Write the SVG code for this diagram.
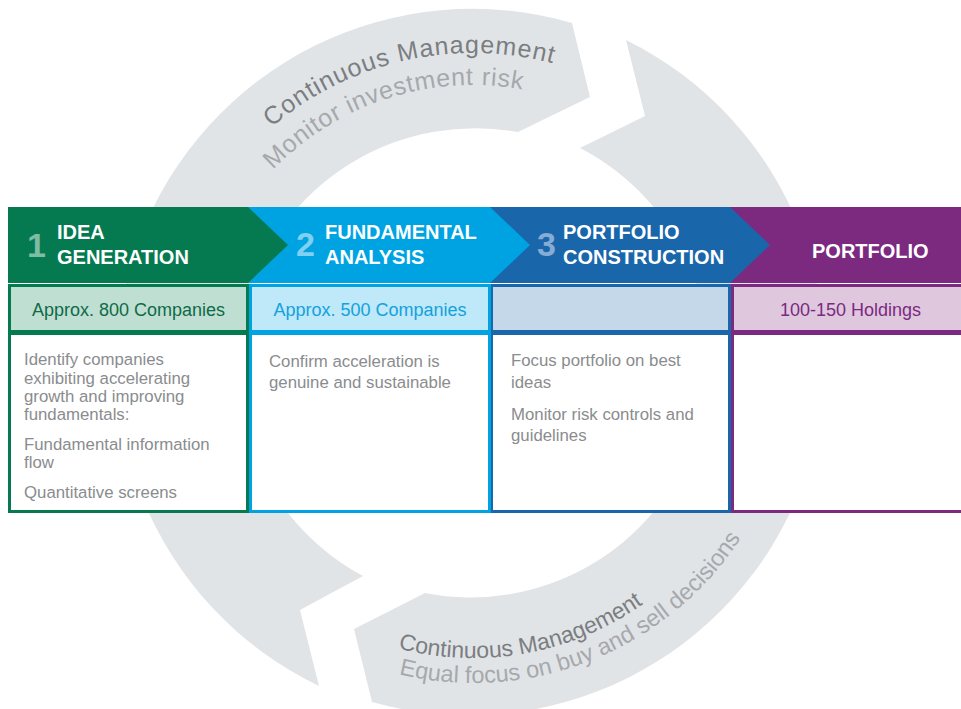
<svg xmlns="http://www.w3.org/2000/svg" width="961" height="709" viewBox="0 0 961 709">
<style>
.ring{fill:#E1E4E7}
.t1{font-family:"Liberation Sans",Arial,sans-serif;fill:#7B7E81}
.t2{font-family:"Liberation Sans",Arial,sans-serif;fill:#A6A9AC}
.hd{font-family:"Liberation Sans",Arial,sans-serif;font-weight:bold;font-size:20px;fill:#FFFFFF}
.num{font-family:"Liberation Sans",Arial,sans-serif;font-weight:bold;font-size:34px}
.sub{font-family:"Liberation Sans",Arial,sans-serif;font-size:18px;text-anchor:middle}
.body{font-family:"Liberation Sans",Arial,sans-serif;font-size:16.8px;fill:#8A8C8E}
.box{fill:#FFFFFF;stroke-width:3}
</style>
<defs>
<path id="pTop1" d="M271.7,127.3 A310,310 0 0 1 604,82"/>
<path id="pTop2" d="M273,169.9 A278,278 0 0 1 568.1,101.8"/>
<path id="pBot1" d="M398.1,648.4 A295,295 0 0 0 699,552.6"/>
<path id="pBot2" d="M398.9,674.3 A320,320 0 0 0 773.7,472.4"/>
</defs>
<rect width="961" height="709" fill="#FFFFFF"/>
<g id="connectors">
<path class="ring" d="M319,686 A356,356 0 0 1 572,23 L590,97 L518,132 A238,238 0 0 0 363,576 L300,610 Z"/>
<path class="ring" d="M626,40 A356,356 0 0 1 372,702 L354,629 L425,593 A238,238 0 0 0 580,148 L645,116 Z"/>
<text class="t1" font-size="25" letter-spacing="1"><textPath href="#pTop1">Continuous Management</textPath></text>
<text class="t2" font-size="25" letter-spacing="0.7"><textPath href="#pTop2">Monitor investment risk</textPath></text>
<text class="t1" font-size="23"><textPath href="#pBot1">Continuous Management</textPath></text>
<text class="t2" font-size="23.5"><textPath href="#pBot2">Equal focus on buy and sell decisions</textPath></text>
</g>
<g id="portfolio">
<rect x="730" y="207" width="231" height="76" fill="#7B2A80"/>
<rect x="732.5" y="285.5" width="240" height="46" fill="#DFC7DE" stroke="#7B2A80" stroke-width="3"/>
<rect class="box" x="732.5" y="333.5" width="240" height="178" stroke="#7B2A80"/>
<text class="hd" x="812" y="258">PORTFOLIO</text>
<text class="sub" x="850.5" y="316" fill="#7B2A80">100-150 Holdings</text>
</g>
<g id="portfolio-construction">
<polygon points="490,207 730,207 770,245 730,283 490,283" fill="#1A66AB"/>
<rect x="491.5" y="285.5" width="238" height="46" fill="#C5D8E9" stroke="#1A66AB" stroke-width="3"/>
<rect class="box" x="491.5" y="333.5" width="238" height="178" stroke="#1A66AB"/>
<text class="num" x="537" y="256" fill="#86ACD6">3</text>
<text class="hd" x="563" y="239">PORTFOLIO</text>
<text class="hd" x="563" y="264">CONSTRUCTION</text>
<text class="body" x="511" y="366">Focus portfolio on best</text>
<text class="body" x="511" y="388">ideas</text>
<text class="body" x="511" y="420">Monitor risk controls and</text>
<text class="body" x="511" y="441">guidelines</text>
</g>
<g id="fundamental-analysis">
<polygon points="248,207 490,207 530,245 490,283 248,283" fill="#00A3E2"/>
<rect x="250.5" y="285.5" width="239" height="46" fill="#BFE8F8" stroke="#00A3E2" stroke-width="3"/>
<rect class="box" x="250.5" y="333.5" width="239" height="178" stroke="#00A3E2"/>
<text class="num" x="296" y="256" fill="#80D1F1">2</text>
<text class="hd" x="325" y="239">FUNDAMENTAL</text>
<text class="hd" x="325" y="264">ANALYSIS</text>
<text class="sub" x="370" y="316" fill="#12A2DD">Approx. 500 Companies</text>
<text class="body" x="269" y="367">Confirm acceleration is</text>
<text class="body" x="269" y="388">genuine and sustainable</text>
</g>
<g id="idea-generation">
<polygon points="8,207 248,207 288,245 248,283 8,283" fill="#057A50"/>
<rect x="9.5" y="285.5" width="238" height="46" fill="#C0DFD3" stroke="#057A50" stroke-width="3"/>
<rect class="box" x="9.5" y="333.5" width="238" height="178" stroke="#057A50"/>
<text class="num" x="27" y="257" fill="#7FBCA4">1</text>
<text class="hd" x="57" y="239">IDEA</text>
<text class="hd" x="57" y="264">GENERATION</text>
<text class="sub" x="128.5" y="316" fill="#0F6A47">Approx. 800 Companies</text>
<text class="body" x="24" y="365">Identify companies</text>
<text class="body" x="24" y="384">exhibiting accelerating</text>
<text class="body" x="24" y="402">growth and improving</text>
<text class="body" x="24" y="420">fundamentals:</text>
<text class="body" x="24" y="450">Fundamental information</text>
<text class="body" x="24" y="468">flow</text>
<text class="body" x="24" y="498">Quantitative screens</text>
</g>
</svg>
